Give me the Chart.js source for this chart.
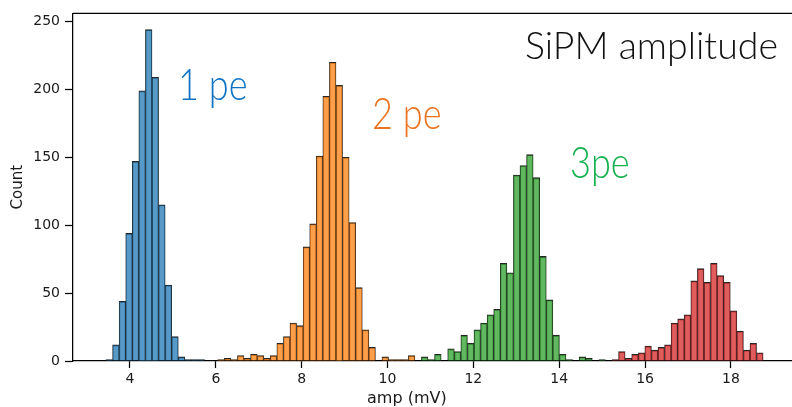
<!DOCTYPE html>
<html>
<head>
<meta charset="utf-8">
<title>SiPM amplitude</title>
<script src="https://cdn.jsdelivr.net/npm/chart.js@4.4.1/dist/chart.umd.min.js"></script>
<style>
  html, body { margin: 0; padding: 0; background: #fff; }
  #wrap { width: 792px; height: 407px; position: relative; }
</style>
</head>
<body>
<div id="wrap"><canvas id="ampChart"></canvas></div>
<script>
// histogram bins in mV (100 common bins)
const binLow = 3.441;
const binWidth = 0.1531;

// counts per bin for each photo-electron peak, starting at its first bin index
const pe1FirstBin = 0;
const pe1Counts = [1, 12, 44, 94, 147, 199, 244, 209, 115, 56, 18, 3, 1, 1, 1];
const pe2FirstBin = 17;
const pe2Counts = [1, 2, 1, 4, 2, 5, 4, 2, 4, 13, 18, 28, 26, 84, 101, 151, 195, 220, 203, 150,
                   102, 54, 23, 10, 0, 3, 1, 1, 1, 4];
const pe3FirstBin = 48;
const pe3Counts = [3, 1, 5, 0, 9, 7, 19, 13, 23, 28, 34, 38, 72, 65, 137, 144, 152, 135, 77, 45,
                   19, 5, 1, 0, 3, 2, 0, 1];
const pe4FirstBin = 77;
const pe4Counts = [1, 7, 2, 5, 6, 11, 8, 10, 12, 28, 31, 34, 59, 68, 58, 72, 63, 58, 37, 22, 8, 13, 6];

const xTicks = [4, 6, 8, 10, 12, 14, 16, 18];
const yTicks = [0, 50, 100, 150, 200, 250];

// peak annotations, anchored in data units (mV, count at baseline)
const peLabels = ['1 pe', '2 pe', '3pe'];
const peLabelX = [5.12, 9.64, 14.25];
const peLabelY = [192, 171, 135];
const peLabelColors = ['#0f74c6', '#eb721f', '#14b150'];

function toPoints(firstBin, counts) {
    return counts.map((c, k) => ({ x: binLow + (firstBin + k + 0.5) * binWidth, y: c }));
}

function histDataset(label, firstBin, counts, fill) {
    return {
        label: label,
        data: toPoints(firstBin, counts),
        backgroundColor: fill,
        borderColor: '#262626',
        borderWidth: { top: 1.1, left: 0.7, right: 0.7, bottom: 0 },
        borderSkipped: false,
        barPercentage: 1,
        categoryPercentage: 1,
        grouped: false
    };
}

// top spine, axis label and the text drawn inside the axes
const overlayPlugin = {
    id: 'overlay',
    afterDraw(chart) {
        const { ctx, chartArea, scales } = chart;
        ctx.save();
        ctx.strokeStyle = '#000';
        ctx.lineWidth = 1.25;
        ctx.beginPath();
        ctx.moveTo(chartArea.left, chartArea.top);
        ctx.lineTo(chartArea.right, chartArea.top);
        ctx.stroke();

        // x axis label
        ctx.fillStyle = '#1a1a1a';
        ctx.font = '16px "DejaVu Sans"';
        ctx.textAlign = 'center';
        ctx.textBaseline = 'alphabetic';
        ctx.fillText('amp (mV)', scales.x.getPixelForValue(10.45), 403);

        // peak labels, light face squeezed a little
        ctx.textAlign = 'left';
        ctx.font = '300 43px Lato, "Open Sans", sans-serif';
        peLabels.forEach((t, i) => {
            ctx.save();
            ctx.translate(scales.x.getPixelForValue(peLabelX[i]), scales.y.getPixelForValue(peLabelY[i]));
            ctx.scale(0.84, 1);
            ctx.fillStyle = peLabelColors[i];
            ctx.fillText(t, 0, 0);
            ctx.restore();
        });

        ctx.textAlign = 'right';
        ctx.fillStyle = '#111';
        ctx.font = '300 37.5px Lato, "Open Sans", sans-serif';
        ctx.fillText('SiPM amplitude', chartArea.right - 14, chartArea.top + 46);
        ctx.restore();
    }
};

const ctx = document.getElementById('ampChart').getContext('2d');
const ampChart = new Chart(ctx, {
    type: 'bar',
    data: {
        datasets: [
            histDataset('1 pe', pe1FirstBin, pe1Counts, 'rgba(31, 119, 180, 0.75)'),
            histDataset('2 pe', pe2FirstBin, pe2Counts, 'rgba(255, 127, 14, 0.75)'),
            histDataset('3 pe', pe3FirstBin, pe3Counts, 'rgba(44, 160, 44, 0.75)'),
            histDataset('4 pe', pe4FirstBin, pe4Counts, 'rgba(214, 39, 40, 0.75)')
        ]
    },
    options: {
        responsive: true,
        maintainAspectRatio: false,
        animation: false,
        layout: { padding: { top: 10, right: 0, left: 0, bottom: 0 } },
        plugins: {
            legend: { display: false },
            tooltip: { enabled: false }
        },
        scales: {
            x: {
                type: 'linear',
                offset: false,
                min: 2.672,
                max: 19.424,
                afterBuildTicks: scale => { scale.ticks = xTicks.map(v => ({ value: v })); },
                afterFit: scale => { scale.height = 46; },
                grid: { offset: false, drawOnChartArea: false, drawTicks: true, tickLength: 7, tickWidth: 1.25, tickColor: '#000' },
                border: { display: true, color: '#000', width: 1.25 },
                ticks: { color: '#1a1a1a', padding: 3, maxRotation: 0, font: { family: 'DejaVu Sans', size: 14 } },
                title: { display: false }
            },
            y: {
                min: 0,
                max: 256,
                afterBuildTicks: scale => { scale.ticks = yTicks.map(v => ({ value: v })); },
                afterFit: scale => { scale.width = 73; },
                grid: { drawOnChartArea: false, drawTicks: true, tickLength: 8, tickWidth: 1.25, tickColor: '#000' },
                border: { display: true, color: '#000', width: 1.25 },
                ticks: { color: '#1a1a1a', padding: 5, font: { family: 'DejaVu Sans', size: 14 } },
                title: {
                    display: true,
                    text: 'Count',
                    color: '#1a1a1a',
                    padding: { top: 9, bottom: 0 },
                    font: { family: 'DejaVu Sans', size: 15 }
                }
            }
        }
    },
    plugins: [overlayPlugin]
});
</script>
</body>
</html>
